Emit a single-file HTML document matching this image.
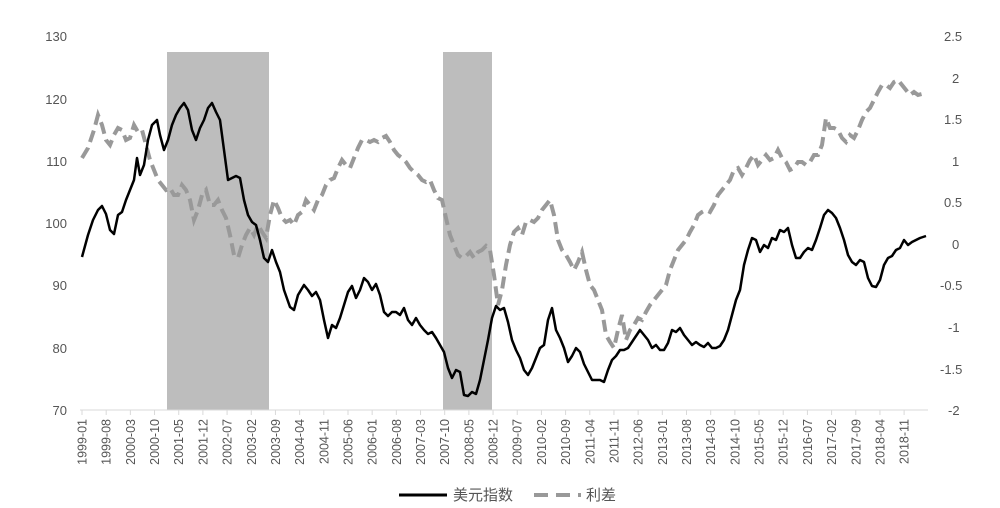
<!DOCTYPE html>
<html><head><meta charset="utf-8"><style>
body{margin:0;background:#fff}
svg text{font-family:"Liberation Sans","Noto Sans CJK SC",sans-serif;fill:#555}
</style></head><body>
<svg width="1000" height="503" viewBox="0 0 1000 503" xmlns="http://www.w3.org/2000/svg">
<rect x="167" y="52" width="102" height="358" fill="#bdbdbd"/>
<rect x="443" y="52" width="49" height="358" fill="#bdbdbd"/>
<line x1="80" y1="410" x2="928" y2="410" stroke="#d9d9d9" stroke-width="1"/>
<g font-size="13" text-anchor="end">
<text x="67" y="41">130</text><text x="67" y="104">120</text><text x="67" y="166">110</text>
<text x="67" y="228">100</text><text x="67" y="290">90</text><text x="67" y="353">80</text><text x="67" y="415">70</text>
</g>
<g font-size="13" text-anchor="start">
<text x="944" y="41">2.5</text><text x="952" y="83">2</text><text x="944" y="124">1.5</text>
<text x="952" y="166">1</text><text x="944" y="207">0.5</text><text x="952" y="249">0</text>
<text x="940" y="290">-0.5</text><text x="948" y="332">-1</text><text x="940" y="374">-1.5</text><text x="948" y="415">-2</text>
</g>
<g id="xl" font-size="12.5" text-anchor="end"></g>
<polyline fill="none" stroke="#999" stroke-width="4" stroke-dasharray="12,6" points="82,158 88,148 94,130 98,115 102,125 106,140 110,145 114,135 118,128 122,130 126,140 130,138 134,125 138,132 142,130 146,145 150,160 154,170 158,180 162,185 166,190 170,188 174,195 178,195 182,185 186,190 190,200 194,220 198,210 202,195 206,190 210,205 214,205 218,200 222,210 226,218 230,235 234,255 238,258 242,245 246,235 250,228 254,235 258,225 262,232 266,238 270,215 274,200 278,208 282,218 286,222 290,220 294,225 298,215 302,212 306,200 310,205 314,210 318,200 322,195 326,185 330,180 334,178 338,168 342,160 346,165 350,168 354,158 358,148 362,140 366,140 370,142 374,140 378,142 382,138 386,136 390,142 394,150 398,155 402,158 406,162 410,168 414,172 418,175 422,180 426,182 430,180 434,190 438,198 442,200 446,218 450,235 454,245 458,255 462,258 466,256 470,252 474,258 478,252 482,250 486,246 490,250 494,275 498,305 502,290 506,265 510,245 514,232 518,228 522,235 526,222 530,220 534,222 538,218 542,210 546,205 550,200 554,215 558,240 562,250 566,255 570,262 574,270 578,262 582,252 586,270 590,285 594,290 598,300 602,310 606,335 610,342 614,348 618,330 622,315 626,340 630,330 634,325 638,318 642,320 646,312 650,305 654,300 658,295 662,290 666,285 670,270 674,260 678,250 682,245 686,240 690,232 694,225 698,215 702,212 706,210 710,212 714,205 718,195 722,190 726,185 730,180 734,170 738,168 742,175 746,168 750,160 754,155 758,165 762,160 766,155 770,160 774,158 778,150 782,158 786,162 790,170 794,168 798,162 802,162 806,165 810,162 814,155 818,155 822,145 826,118 830,128 834,128 838,130 842,138 846,142 850,135 854,138 858,130 862,120 866,112 870,108 874,100 878,92 882,85 886,85 890,88 894,82 898,80 902,85 906,90 910,95 914,92 918,95 922,94"/>
<polyline fill="none" stroke="#000" stroke-width="2.5" stroke-linejoin="round" points="82,257 88,235 93,220 98,210 102,206 106,214 110,230 114,234 118,215 122,212 126,200 130,190 134,180 137,158 140,175 144,165 148,140 152,125 157,120 160,135 164,150 168,140 172,125 176,115 180,108 184,103 188,110 192,130 196,140 200,128 204,120 208,108 212,103 216,112 220,120 224,150 228,180 232,178 236,176 240,178 244,200 248,215 252,222 256,225 260,240 264,258 268,262 272,250 276,262 280,272 284,290 290,307 294,310 298,295 304,285 308,290 312,296 316,292 320,300 324,320 328,338 332,325 336,328 340,318 344,305 348,292 352,286 356,298 360,290 364,278 368,282 372,290 376,284 380,295 384,312 388,316 392,312 396,312 400,315 404,308 408,320 412,325 416,318 420,325 424,330 428,334 432,332 436,338 440,345 444,352 448,368 452,378 456,370 460,372 464,395 468,396 472,392 476,394 480,380 484,360 488,340 492,318 496,306 500,310 504,308 508,322 512,340 516,350 520,358 524,370 528,375 532,368 536,358 540,348 544,345 548,320 552,308 556,330 560,338 564,348 568,362 572,356 576,348 580,352 584,364 588,372 592,380 596,380 600,380 604,382 608,370 612,360 616,356 620,350 624,350 628,348 632,342 636,336 640,330 644,335 648,340 652,348 656,345 660,350 664,350 668,343 672,330 676,332 680,328 684,335 688,340 692,345 696,342 700,345 704,347 708,343 712,348 716,348 720,346 724,340 728,330 732,315 736,300 740,290 744,265 748,250 752,238 756,240 760,252 764,245 768,248 772,238 776,240 780,230 784,232 788,228 792,245 796,258 800,258 804,252 808,248 812,250 816,240 820,228 824,215 828,210 832,213 836,218 840,228 844,240 848,255 852,262 856,265 860,260 864,262 868,278 872,286 876,287 880,280 884,265 888,258 892,256 896,250 900,248 904,240 908,245 912,242 916,240 920,238 926,236"/>
<line x1="399" y1="495" x2="447" y2="495" stroke="#000" stroke-width="3"/>
<text x="453" y="500" font-size="15" fill="#888">美元指数</text>
<line x1="534" y1="495" x2="581" y2="495" stroke="#999" stroke-width="4" stroke-dasharray="14,8"/>
<text x="586" y="500" font-size="15" fill="#888">利差</text>
</svg>
<script>
var labels=["1999-01","1999-08","2000-03","2000-10","2001-05","2001-12","2002-07","2003-02","2003-09","2004-04","2004-11","2005-06","2006-01","2006-08","2007-03","2007-10","2008-05","2008-12","2009-07","2010-02","2010-09","2011-04","2011-11","2012-06","2013-01","2013-08","2014-03","2014-10","2015-05","2015-12","2016-07","2017-02","2017-09","2018-04","2018-11"];
var g=document.getElementById('xl'),ns="http://www.w3.org/2000/svg";
labels.forEach(function(l,i){var x=82+i*24.18;
var t=document.createElementNS(ns,'line');t.setAttribute('x1',x);t.setAttribute('x2',x);t.setAttribute('y1',410);t.setAttribute('y2',415);t.setAttribute('stroke','#d9d9d9');g.appendChild(t);
var tx=document.createElementNS(ns,'text');tx.setAttribute('transform','translate('+(x+4.5)+',419) rotate(-90)');tx.textContent=l;g.appendChild(tx);});
</script>
</body></html>
